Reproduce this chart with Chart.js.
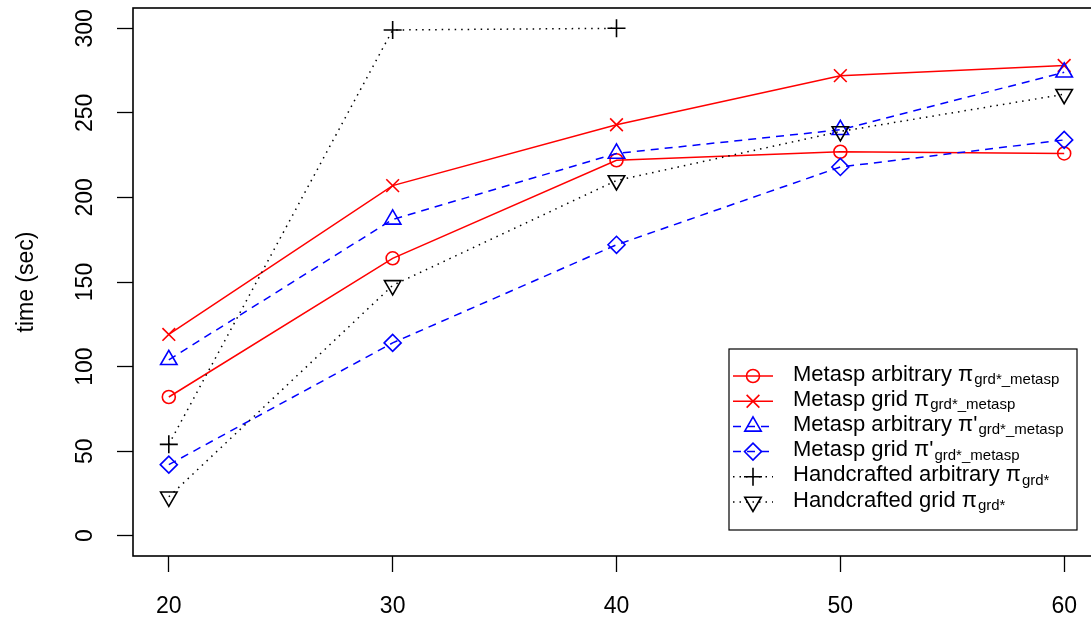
<!DOCTYPE html>
<html>
<head>
<meta charset="utf-8">
<script src="https://cdn.jsdelivr.net/npm/chart.js@4.4.1/dist/chart.umd.min.js"></script>
<style>
html, body { margin: 0; padding: 0; background: #fff; overflow: hidden; }
#wrap { width: 1100px; height: 622px; }
</style>
</head>
<body>
<div id="wrap"><canvas id="chart" width="1100" height="622"></canvas></div>
<script>
// number of nodes on the x axis
var nodes = [20, 30, 40, 50, 60];
var yTicks = [0, 50, 100, 150, 200, 250, 300];

// time (sec) per configuration
var metaArbitrary  = [82, 164, 222, 227, 226];
var metaGrid       = [119, 207, 243, 272, 278];
var metaArbitraryP = [104, 187, 226, 240, 274];
var metaGridP      = [42, 114, 172, 218, 234];
var handArbitrary  = [54, 299, 300, null, null];
var handGrid       = [23, 148, 210, 239, 261];

var legendMain = ['Metasp arbitrary \u03c0', 'Metasp grid \u03c0', "Metasp arbitrary \u03c0'",
                  "Metasp grid \u03c0'", 'Handcrafted arbitrary \u03c0', 'Handcrafted grid \u03c0'];
var legendSub = ['grd*_metasp', 'grd*_metasp', 'grd*_metasp', 'grd*_metasp', 'grd*', 'grd*'];

var FONT = "'Liberation Sans', Arial, Helvetica, sans-serif";

function series(values, color, dash, style, radius, rotation, order) {
    return {
        data: nodes.map(function (x, i) { return { x: x, y: values[i] }; }),
        borderColor: color,
        borderWidth: 1.5,
        borderDash: dash,
        pointStyle: style,
        pointRadius: radius,
        pointRotation: rotation || 0,
        pointBorderColor: color,
        pointBackgroundColor: 'rgba(0,0,0,0)',
        pointBorderWidth: 1.6,
        pointHoverRadius: radius,
        spanGaps: false,
        tension: 0,
        order: order
    };
}

// later series drawn on top, like the original plot
var datasets = [
    series(metaArbitrary, '#ff0000', [], 'circle', 6.5, 0, 6),
    series(metaGrid, '#ff0000', [], 'crossRot', 9, 0, 5),
    series(metaArbitraryP, '#0000ff', [8, 6], 'triangle', 9.5, 0, 4),
    series(metaGridP, '#0000ff', [8, 6], 'rectRot', 8.5, 0, 3),
    series(handArbitrary, '#000000', [1.5, 5], 'cross', 9, 0, 2),
    series(handGrid, '#000000', [1.5, 5], 'triangle', 9.5, 180, 1)
];

function noPad(s) {
    s.paddingTop = 0; s.paddingBottom = 0; s.paddingLeft = 0; s.paddingRight = 0;
}

var boxAndLegend = {
    id: 'boxAndLegend',
    afterDatasetsDraw: function (chart) {
        var a = chart.chartArea, ctx = chart.ctx;
        ctx.save();
        ctx.strokeStyle = '#000';
        ctx.lineWidth = 1.6;
        ctx.strokeRect(a.left, a.top, a.right - a.left, a.bottom - a.top);
        ctx.restore();
    },
    afterDraw: function (chart) {
        var ctx = chart.ctx;
        var bx = 729, by = 349, bw = 348, bh = 181;
        ctx.save();
        ctx.fillStyle = '#fff';
        ctx.fillRect(bx, by, bw, bh);
        ctx.strokeStyle = '#000';
        ctx.lineWidth = 1.2;
        ctx.strokeRect(bx, by, bw, bh);
        for (var i = 0; i < datasets.length; i++) {
            var ds = datasets[i];
            var yc = 376 + i * 25.2;
            ctx.strokeStyle = ds.borderColor;
            ctx.lineWidth = ds.borderWidth;
            ctx.setLineDash(ds.borderDash);
            ctx.beginPath();
            ctx.moveTo(733, yc);
            ctx.lineTo(773, yc);
            ctx.stroke();
            ctx.setLineDash([]);
            ctx.lineWidth = ds.pointBorderWidth;
            ctx.fillStyle = 'rgba(0,0,0,0)';
            Chart.helpers.drawPoint(ctx, {
                pointStyle: ds.pointStyle,
                radius: ds.pointRadius,
                rotation: ds.pointRotation,
                borderWidth: ds.pointBorderWidth
            }, 753, yc);
            ctx.fillStyle = '#000';
            ctx.textBaseline = 'alphabetic';
            ctx.textAlign = 'left';
            ctx.font = '22px ' + FONT;
            ctx.fillText(legendMain[i], 793, yc + 4.5);
            var w = ctx.measureText(legendMain[i]).width;
            ctx.font = '15px ' + FONT;
            ctx.fillText(legendSub[i], 793 + w + 1, yc + 8);
        }
        ctx.restore();
    }
};

new Chart(document.getElementById('chart').getContext('2d'), {
    type: 'line',
    data: { datasets: datasets },
    options: {
        responsive: false,
        animation: false,
        devicePixelRatio: 1,
        layout: { autoPadding: false, padding: { top: 8, left: 0, right: 0, bottom: 0 } },
        plugins: { legend: { display: false }, tooltip: { enabled: false } },
        scales: {
            x: {
                type: 'linear',
                min: 18.4,
                max: 61.6,
                afterBuildTicks: function (s) { s.ticks = nodes.map(function (v) { return { value: v }; }); },
                afterFit: function (s) { s.height = 66; noPad(s); },
                border: { display: false },
                grid: { drawOnChartArea: false, drawTicks: true, tickLength: 16, tickColor: '#000', tickWidth: 1.3 },
                ticks: { color: '#000', font: { family: FONT, size: 23 }, padding: 21, maxRotation: 0, autoSkip: false }
            },
            y: {
                type: 'linear',
                min: -12,
                max: 312,
                afterBuildTicks: function (s) { s.ticks = yTicks.map(function (v) { return { value: v }; }); },
                afterFit: function (s) { s.width = 133; noPad(s); },
                border: { display: false },
                grid: { drawOnChartArea: false, drawTicks: true, tickLength: 16, tickColor: '#000', tickWidth: 1.3 },
                ticks: { color: '#000', font: { family: FONT, size: 23 }, padding: 12, minRotation: 90, maxRotation: 90,
                         crossAlign: 'center', autoSkip: false },
                title: { display: true, text: 'time (sec)', color: '#000', font: { family: FONT, size: 23 },
                         padding: { top: 13, bottom: 0 } }
            }
        }
    },
    plugins: [boxAndLegend]
});
</script>
</body>
</html>
